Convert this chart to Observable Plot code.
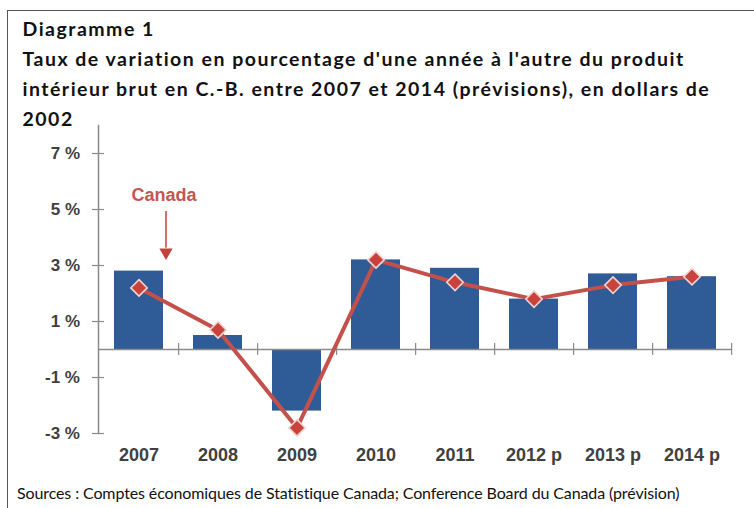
<!DOCTYPE html>
<html>
<head>
<meta charset="utf-8">
<script src="https://cdn.jsdelivr.net/npm/d3@7"></script>
<script src="https://cdn.jsdelivr.net/npm/@observablehq/plot@0.6"></script>
<style>
  html, body { margin: 0; padding: 0; background: #fff; }
  #wrap { position: relative; width: 754px; height: 508px; overflow: hidden; background: #fff; }
  #frame { position: absolute; left: 7px; top: 10px; width: 760px; height: 520px;
           border-top: 1.5px solid #555; border-left: 1.5px solid #555; }
  #chart { position: absolute; left: 0; top: 120px; }
  .tl { position: absolute; left: 22.5px; font-family: Lato, sans-serif; font-weight: bold;
        font-size: 19.5px; line-height: 30px; color: #111; white-space: nowrap; }
  #cap { position: absolute; left: 17px; top: 482.8px; font-family: Lato, sans-serif;
         font-size: 16px; line-height: 20px; color: #111; white-space: nowrap; }
</style>
</head>
<body>
<div id="wrap">
  <div id="frame"></div>
  <div id="chart"></div>
  <div class="tl" id="t1" style="top:14.2px"></div>
  <div class="tl" id="t2" style="top:44.2px"></div>
  <div class="tl" id="t3" style="top:74.2px"></div>
  <div class="tl" id="t4" style="top:104.2px"></div>
  <div id="cap"></div>
</div>
<script>
// ---- data ----
const years = ["2007", "2008", "2009", "2010", "2011", "2012 p", "2013 p", "2014 p"];
const bcValues = [2.8, 0.5, -2.2, 3.2, 2.9, 1.8, 2.7, 2.6];      // C.-B. (bars)
const canadaValues = [2.2, 0.7, -2.8, 3.2, 2.4, 1.8, 2.3, 2.6];  // Canada (line)
const yTicks = [-3, -1, 1, 3, 5, 7];
const yDomain = [-3, 8];
const titleLines = [
  "Diagramme 1",
  "Taux de variation en pourcentage d'une année à l'autre du produit",
  "intérieur brut en C.-B. entre 2007 et 2014 (prévisions), en dollars de",
  "2002"
];
const caption = "Sources : Comptes économiques de Statistique Canada; Conference Board du Canada (prévision)";
const annotation = {year: "2007", label: "Canada", textY: 5.5, arrowFrom: 4.93, arrowTo: 3.62, headY: 3.47};

// ---- layout constants ----
const W = 754, H = 360, mL = 98, mR = 22, mT = 5, mB = 47;
const step = (W - mL - mR) / years.length;
const blue = "#2F5B97", red = "#C4504C", redDot = "#C9433C", axisGray = "#8a8a8a", labelGray = "#404040";

const bars = years.map((y, i) => ({year: y, value: bcValues[i]}));
const canada = years.map((y, i) => ({year: y, value: canadaValues[i]}));

const chart = Plot.plot({
  width: W, height: H,
  marginLeft: mL, marginRight: mR, marginTop: mT, marginBottom: mB,
  style: {background: "transparent", overflow: "visible"},
  x: {domain: years, paddingInner: 0.38, paddingOuter: 0.19, label: null},
  y: {domain: yDomain, label: null},
  marks: [
    Plot.barY(bars, {x: "year", y: "value", fill: blue}),
    Plot.ruleY([0], {stroke: axisGray, strokeWidth: 1.5}),
    Plot.frame({anchor: "left", stroke: axisGray, strokeWidth: 1.5}),
    Plot.ruleX(years, {x: d => d, y1: 0, y2: 0, insetTop: -6, insetBottom: -6, dx: step / 2, stroke: axisGray, strokeWidth: 1.2}),
    Plot.axisY({ticks: yTicks, tickSize: 12, dx: 6, text: null, stroke: axisGray, strokeWidth: 1.2}),
    Plot.axisY({ticks: yTicks, tickSize: 0, tickPadding: 18.5, tickFormat: d => d + " %",
      fontFamily: "Liberation Sans, Arial, sans-serif", fontWeight: "bold", fontSize: 17, fill: labelGray}),
    Plot.axisX({tickSize: 0, tickPadding: 15, fontFamily: "Liberation Sans, Arial, sans-serif",
      fontWeight: "bold", fontSize: 18, fill: labelGray}),
    Plot.line(canada, {x: "year", y: "value", stroke: red, strokeWidth: 4}),
    Plot.dot(canada, {x: "year", y: "value", symbol: "diamond2", r: 7.4, fill: redDot, stroke: "#F1D3D2", strokeWidth: 1.6}),
    Plot.text([annotation], {x: "year", y: "textY", text: "label", dx: 25, fill: "#C55550",
      fontFamily: "Liberation Sans, Arial, sans-serif", fontWeight: "bold", fontSize: 18}),
    Plot.ruleX([annotation], {x: "year", y1: "arrowFrom", y2: "arrowTo", dx: 27, stroke: "#C4403A", strokeWidth: 1.5}),
    Plot.dot([annotation], {x: "year", y: "headY", dx: 27, symbol: "triangle", r: 4.9, rotate: 180, fill: "#C4403A"})
  ]
});
document.getElementById("chart").appendChild(chart);

// ---- titles & caption, fitted to original widths ----
const ctx = document.createElement("canvas").getContext("2d");
function fitSpacing(text, font, target) {
  ctx.font = font;
  const w = ctx.measureText(text).width;
  return (target - w) / text.length;
}
const ls = fitSpacing(titleLines[1], "bold 19.5px Lato", 663);
titleLines.forEach((t, i) => {
  const el = document.getElementById("t" + (i + 1));
  el.textContent = t;
  el.style.letterSpacing = ls + "px";
});
const capEl = document.getElementById("cap");
capEl.textContent = caption;
capEl.style.letterSpacing = fitSpacing(caption, "16px Lato", 663) + "px";
</script>
</body>
</html>
